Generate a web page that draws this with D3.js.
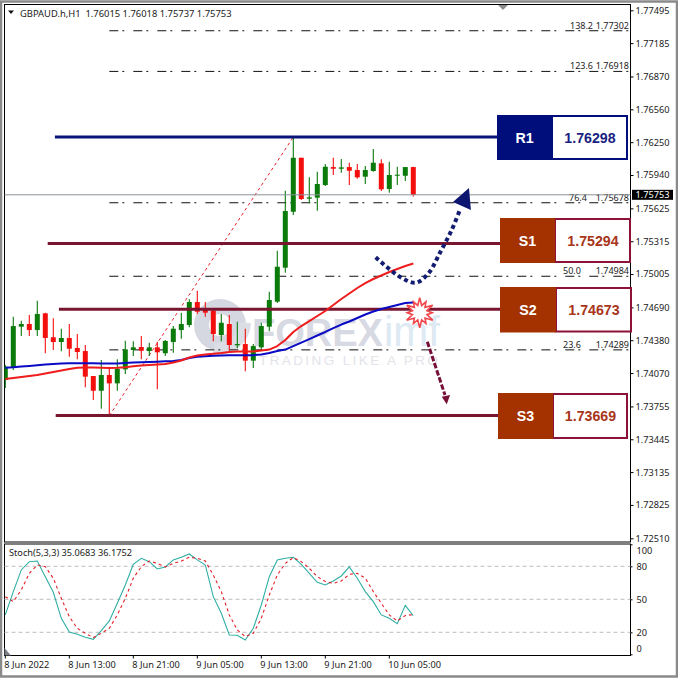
<!DOCTYPE html>
<html>
<head>
<meta charset="utf-8">
<title>GBPAUD H1</title>
<script src="https://cdn.jsdelivr.net/npm/d3@7"></script>
<style>
  html, body { margin: 0; padding: 0; background: #fff; }
  svg { display: block; }
  text { font-family: "Noto Sans", sans-serif; fill: #222; }
  .box text { font-family: "Liberation Sans", Arial, sans-serif; font-weight: bold; }
  .mark text { font-family: "Liberation Sans", Arial, sans-serif; }
</style>
</head>
<body>
<div id="chart"></div>
<script>
// Candles, oldest first, one per hour
const candleOpen = [1.74004,1.74124,1.74508,1.74533,1.74476,1.74634,1.74408,1.74363,1.74401,1.74307,1.74278,1.74042,1.73903,1.74052,1.73973,1.74105,1.74288,1.74316,1.74278,1.74313,1.74257,1.74363,1.74476,1.74524,1.74741,1.74681,1.74659,1.74429,1.74533,1.74332,1.74344,1.74187,1.74313,1.74508,1.74744,1.75065,1.75593,1.76103,1.75716,1.75726,1.75845,1.76015,1.75999,1.76015,1.75987,1.75924,1.75978,1.76050,1.75808,1.75933,1.75933,1.76015];
const candleHigh = [1.74146,1.74602,1.74564,1.74618,1.74753,1.74640,1.74587,1.74489,1.74533,1.74439,1.74335,1.74042,1.74193,1.74130,1.74200,1.74375,1.74370,1.74420,1.74357,1.74366,1.74382,1.74514,1.74640,1.74766,1.74848,1.74741,1.74665,1.74628,1.74618,1.74555,1.74489,1.74344,1.74545,1.74838,1.75225,1.75792,1.76298,1.76103,1.75918,1.75971,1.76044,1.76103,1.76091,1.76056,1.76044,1.76025,1.76185,1.76088,1.76065,1.76018,1.76015,1.76018];
const candleLow = [1.73929,1.74099,1.74420,1.74420,1.74420,1.74257,1.74288,1.74275,1.74224,1.74200,1.73936,1.73816,1.73734,1.73667,1.73903,1.74061,1.74231,1.74200,1.74231,1.73917,1.74231,1.74262,1.74394,1.74502,1.74628,1.74602,1.74370,1.74370,1.74281,1.74304,1.74087,1.74118,1.74281,1.74464,1.74731,1.75017,1.75562,1.75704,1.75673,1.75603,1.75836,1.75940,1.75962,1.75845,1.75905,1.75855,1.75971,1.75789,1.75773,1.75845,1.75883,1.75737];
const candleClose = [1.74130,1.74514,1.74533,1.74476,1.74628,1.74401,1.74363,1.74401,1.74300,1.74269,1.74036,1.73903,1.74052,1.73973,1.74111,1.74294,1.74313,1.74281,1.74313,1.74266,1.74373,1.74489,1.74533,1.74741,1.74649,1.74640,1.74439,1.74545,1.74335,1.74344,1.74187,1.74325,1.74514,1.74760,1.75074,1.75600,1.76103,1.75713,1.75729,1.75855,1.76018,1.75999,1.76012,1.75980,1.75918,1.75987,1.76056,1.75805,1.75940,1.75943,1.76015,1.75753];

// Moving averages
const maRed = [1.74014,1.74023,1.74033,1.74042,1.74052,1.74066,1.74080,1.74094,1.74108,1.74120,1.74122,1.74122,1.74120,1.74119,1.74120,1.74125,1.74135,1.74141,1.74146,1.74151,1.74156,1.74170,1.74189,1.74217,1.74236,1.74245,1.74252,1.74259,1.74269,1.74274,1.74274,1.74274,1.74283,1.74292,1.74325,1.74382,1.74458,1.74514,1.74561,1.74609,1.74656,1.74712,1.74769,1.74821,1.74873,1.74920,1.74958,1.74991,1.75024,1.75052,1.75081,1.75104];
const maBlue = [1.74121,1.74125,1.74131,1.74137,1.74143,1.74150,1.74156,1.74160,1.74163,1.74163,1.74163,1.74162,1.74161,1.74160,1.74161,1.74165,1.74169,1.74172,1.74174,1.74177,1.74181,1.74184,1.74193,1.74212,1.74224,1.74229,1.74233,1.74237,1.74239,1.74239,1.74239,1.74239,1.74245,1.74259,1.74278,1.74292,1.74325,1.74358,1.74391,1.74425,1.74458,1.74495,1.74528,1.74557,1.74590,1.74623,1.74651,1.74675,1.74694,1.74712,1.74731,1.74736];

// Stochastic oscillator
const stochMain = [35.8,57.0,76.7,84.2,84.8,70.6,56.4,32.7,20.3,18.2,15.5,13.6,21.5,30.3,46.4,63.0,81.8,87.3,84.2,77.6,79.4,85.8,88.2,91.2,85.8,81.2,52.4,37.3,17.6,17.3,13.0,23.6,44.8,70.6,85.8,87.3,88.2,81.8,73.6,65.5,63.0,66.7,71.2,79.4,69.1,57.0,47.9,35.8,32.7,27.9,44.5,35.07];
const stochSignal = [52.4,47.9,58.5,73.6,81.2,79.7,69.1,50.9,34.2,23.6,19.1,15.2,19.1,23.6,35.8,50.9,69.1,79.7,84.8,82.7,79.4,82.7,84.8,88.2,87.3,84.8,72.1,57.0,35.8,22.1,16.1,19.1,32.7,53.9,72.1,82.7,87.9,84.2,78.2,70.6,66.1,64.5,66.7,72.7,73.6,69.1,57.0,46.4,35.8,30.3,35.2,36.18];

// Axis labels
const priceTicks = [1.77495,1.77185,1.76870,1.76560,1.76250,1.75940,1.75625,1.75315,1.75005,1.74690,1.74380,1.74070,1.73755,1.73445,1.73135,1.72825,1.72510];
const stochTicks = [100,80,50,20,0];
const stochLevels = [80,50,20];
const timeIndex = [0,8,16,24,32,40,48];
const timeLabels = ['8 Jun 2022','8 Jun 13:00','8 Jun 21:00','9 Jun 05:00','9 Jun 13:00','9 Jun 21:00','10 Jun 05:00'];

// Fibonacci levels
const fibNames = ['138.2','123.6','76.4','50.0','23.6'];
const fibPrices = [1.77302,1.76918,1.75678,1.74984,1.74289];

// Support and resistance
const levelNames = ['R1','S1','S2','S3'];
const levelPrices = [1.76298,1.75294,1.74673,1.73669];
const levelStart = [6.2,5.3,6.7,6.3];

// Hand drawn arrows, as [candle index, price]
const arrowUpPath = [[46.3,1.75163],[49.3,1.74980],[51.3,1.74923],[52.9,1.75012],[54.4,1.75216],[55.8,1.75421],[56.9,1.75625]];
const arrowUpHead = [[57.96,1.75817],[55.96,1.75685],[58.2,1.75609]];
const arrowDownPath = [[52.75,1.74366],[54.96,1.73863]];
const arrowDownHead = [[55.18,1.73775],[54.55,1.73847],[55.6,1.73863]];
const starCentre = [51.8,1.74640];

const currentPrice = 1.75753;
const titleText = 'GBPAUD.h,H1  1.76015 1.76018 1.75737 1.75753';
const stochTitle = 'Stoch(5,3,3) 35.0683 36.1752';

// Layout
const WIDTH = 678, HEIGHT = 678;
const PANEL = { left: 4.5, right: 630.5, top: 4.5, bottom: 542, subTop: 544, subBottom: 655.5 };
const COLORS = {
  up: '#0a7a0a', down: '#f40f0f', navy: '#0a1478', maroon: '#7a1530',
  fib: '#111', brick: '#a33200', wine: '#8c1238', teal: '#2faea4'
};

const x = d3.scaleLinear().domain([0, 1]).range([5.3, 13.3]);
const y = d3.scaleLinear().domain([1.77495, 1.72510]).range([10.3, 538.3]);
const yStoch = d3.scaleLinear().domain([0, 100]).range([654.3, 544.3]);
const toPoint = d => [x(d[0]), y(d[1])];

const svg = d3.select('#chart').append('svg')
  .attr('width', WIDTH)
  .attr('height', HEIGHT)
  .attr('viewBox', `0 0 ${WIDTH} ${HEIGHT}`);

drawFrame();
drawWatermark();
drawFib();
drawCandles();
drawLevels();
drawAverages();
drawArrows();
drawPriceAxis();
drawStoch();
drawBoxes();

function drawFrame() {
  // grey window edge
  svg.append('path')
    .attr('d', `M1,${HEIGHT - 1.5}V1.5H${WIDTH - 1}V${HEIGHT - 1.5}Z`)
    .attr('fill', 'none')
    .attr('stroke', '#8a8a8a')
    .attr('stroke-width', 2.5);

  const panels = svg.append('g').attr('fill', '#fff').attr('stroke', '#000');
  panels.append('rect')
    .attr('x', PANEL.left).attr('y', PANEL.top)
    .attr('width', PANEL.right - PANEL.left).attr('height', PANEL.bottom - PANEL.top);
  panels.append('rect')
    .attr('x', PANEL.left).attr('y', PANEL.subTop)
    .attr('width', PANEL.right - PANEL.left).attr('height', PANEL.subBottom - PANEL.subTop);

  // little grey shift marker under the top edge
  svg.append('path')
    .attr('d', 'M498,5L508,5L503,10Z')
    .attr('fill', '#8c8c8c');

  svg.append('path')
    .attr('d', 'M8,10.5L14,10.5L11,14Z')
    .attr('fill', '#111');
  svg.append('text')
    .attr('x', 20).attr('y', 17)
    .attr('font-size', 9.4)
    .attr('xml:space', 'preserve')
    .style('white-space', 'pre')
    .text(titleText);
}

function drawWatermark() {
  const mark = svg.append('g').attr('class', 'mark').attr('pointer-events', 'none');

  const ring = d3.arc().innerRadius(11).outerRadius(26).startAngle(0).endAngle(2 * Math.PI);
  mark.append('path')
    .attr('d', ring())
    .attr('transform', 'translate(220,325)')
    .attr('fill', '#d5d7e1');
  const tail = d3.arc().innerRadius(21).outerRadius(33).startAngle(1.6).endAngle(3.3);
  mark.append('path')
    .attr('d', tail())
    .attr('transform', 'translate(218,322)')
    .attr('fill', '#dcdee6');

  mark.append('text')
    .attr('x', 252).attr('y', 346)
    .attr('font-size', 38).attr('font-weight', 'bold')
    .style('fill', '#d7d9e3')
    .text('FOREX');
  mark.append('text')
    .attr('x', 384).attr('y', 346)
    .attr('font-size', 42)
    .style('fill', '#dde9f3')
    .text('imf');
  mark.append('text')
    .attr('x', 259).attr('y', 365)
    .attr('font-size', 13.5)
    .attr('letter-spacing', 2.4)
    .style('fill', '#e3e4ea')
    .text('TRADING LIKE A PRO');
}

function drawFib() {
  const g = svg.append('g');
  const lineX0 = x(13);

  g.selectAll('line.fib')
    .data(fibPrices)
    .enter()
    .append('line')
    .attr('class', 'fib')
    .attr('x1', lineX0).attr('x2', PANEL.right)
    .attr('y1', y).attr('y2', y)
    .attr('stroke', COLORS.fib)
    .attr('stroke-dasharray', '9 4 2 9');

  // the fibo trend line runs low candle to high candle
  g.append('line')
    .attr('x1', x(13)).attr('y1', y(d3.min(candleLow)))
    .attr('x2', x(36)).attr('y2', y(d3.max(candleHigh)))
    .attr('stroke', '#e8202c')
    .attr('stroke-dasharray', '3 3');

  const nameStart = [570, 570, 569, 563, 563];
  g.selectAll('text.fib-name')
    .data(fibNames)
    .enter()
    .append('text')
    .attr('class', 'fib-name')
    .attr('x', (d, i) => nameStart[i])
    .attr('y', (d, i) => y(fibPrices[i]) - 2)
    .attr('font-size', 9)
    .text(d => d);
  g.selectAll('text.fib-price')
    .data(fibPrices)
    .enter()
    .append('text')
    .attr('class', 'fib-price')
    .attr('x', 629)
    .attr('y', d => y(d) - 2)
    .attr('text-anchor', 'end')
    .attr('font-size', 9)
    .text(d => d.toFixed(5));
}

function drawCandles() {
  const candles = candleOpen.map((open, i) => ({
    i, open, high: candleHigh[i], low: candleLow[i], close: candleClose[i]
  }));
  const colour = d => d.close >= d.open ? COLORS.up : COLORS.down;

  const g = svg.append('g');

  g.selectAll('line')
    .data(candles)
    .enter()
    .append('line')
    .attr('x1', d => x(d.i)).attr('x2', d => x(d.i))
    .attr('y1', d => y(d.high)).attr('y2', d => y(d.low))
    .attr('stroke', colour)
    .attr('stroke-width', 1.1);

  g.selectAll('rect')
    .data(candles)
    .enter()
    .append('rect')
    .attr('x', d => Math.max(x(d.i) - 2.5, PANEL.left))
    .attr('width', d => x(d.i) + 2.5 - Math.max(x(d.i) - 2.5, PANEL.left))
    .attr('y', d => y(Math.max(d.open, d.close)))
    .attr('height', d => Math.max(1, Math.abs(y(d.open) - y(d.close))))
    .attr('fill', colour);

  // last price line
  svg.append('line')
    .attr('x1', PANEL.left).attr('x2', PANEL.right)
    .attr('y1', y(currentPrice)).attr('y2', y(currentPrice))
    .attr('stroke', '#8a9298');
}

function drawLevels() {
  const boxLeft = [497, 500, 500, 498];
  svg.append('g')
    .selectAll('line')
    .data(levelPrices)
    .enter()
    .append('line')
    .attr('x1', (d, i) => x(levelStart[i]))
    .attr('x2', (d, i) => boxLeft[i])
    .attr('y1', y).attr('y2', y)
    .attr('stroke', (d, i) => i === 0 ? COLORS.navy : COLORS.maroon)
    .attr('stroke-width', 3);
}

function drawAverages() {
  const line = d3.line().x((d, i) => x(i)).y(d => y(d));
  [[maBlue, '#0a0ac4'], [maRed, '#ee1c1c']].forEach(([values, stroke]) => {
    svg.append('path')
      .attr('d', line(values))
      .attr('fill', 'none')
      .attr('stroke', stroke)
      .attr('stroke-width', 2)
      .attr('stroke-linejoin', 'round');
  });
}

function drawArrows() {
  const curve = d3.line().curve(d3.curveCatmullRom);

  svg.append('path')
    .attr('d', curve(arrowUpPath.map(toPoint)))
    .attr('fill', 'none')
    .attr('stroke', '#121c70')
    .attr('stroke-width', 4)
    .attr('stroke-dasharray', '4 3.2');
  svg.append('path')
    .attr('d', d3.line()(arrowUpHead.map(toPoint)) + 'Z')
    .attr('fill', '#0c1670');

  svg.append('path')
    .attr('d', d3.line()(arrowDownPath.map(toPoint)))
    .attr('fill', 'none')
    .attr('stroke', '#761038')
    .attr('stroke-width', 3)
    .attr('stroke-dasharray', '5.5 2');
  svg.append('path')
    .attr('d', d3.line()(arrowDownHead.map(toPoint)) + 'Z')
    .attr('fill', '#761038');

  // burst where the price meets S2
  const spikes = d3.range(24).map(k => [
    k / 24 * 2 * Math.PI,
    k % 2 === 0 ? (k % 4 === 0 ? 15 : 12.5) : 7.5
  ]);
  const [cx, cy] = toPoint(starCentre);
  svg.append('path')
    .attr('d', d3.lineRadial().curve(d3.curveLinearClosed)(spikes))
    .attr('transform', `translate(${cx},${cy})`)
    .attr('fill', '#fff')
    .attr('stroke', '#f0484c')
    .attr('stroke-width', 1.6);
}

function drawPriceAxis() {
  const axis = d3.axisRight(y)
    .tickValues(priceTicks)
    .tickFormat(d3.format('.5f'))
    .tickSize(3)
    .tickPadding(2);
  const g = svg.append('g')
    .attr('transform', `translate(${PANEL.right},0)`)
    .call(axis);
  g.select('.domain').remove();
  g.selectAll('text').attr('font-size', 9.2).style('font-family', '"Noto Sans", sans-serif').style('fill', '#222');
  g.selectAll('line').attr('stroke', '#000');

  // last price tag
  const tag = svg.append('g');
  tag.append('rect')
    .attr('x', 632).attr('y', y(currentPrice) - 5)
    .attr('width', 41).attr('height', 10)
    .attr('fill', '#000');
  tag.append('text')
    .attr('x', 635.5).attr('y', y(currentPrice) + 3.3)
    .attr('font-size', 9.2)
    .style('fill', '#fff')
    .text(currentPrice.toFixed(5));
}

function drawStoch() {
  const g = svg.append('g');

  g.selectAll('line.level')
    .data(stochLevels)
    .enter()
    .append('line')
    .attr('class', 'level')
    .attr('x1', PANEL.left).attr('x2', PANEL.right)
    .attr('y1', yStoch).attr('y2', yStoch)
    .attr('stroke', '#bdbdbd')
    .attr('stroke-dasharray', '4 3');

  const line = d3.line().x((d, i) => x(i)).y(d => yStoch(d));
  g.append('path')
    .attr('d', line(stochMain))
    .attr('fill', 'none')
    .attr('stroke', COLORS.teal)
    .attr('stroke-width', 1.1);
  g.append('path')
    .attr('d', line(stochSignal))
    .attr('fill', 'none')
    .attr('stroke', '#e3202a')
    .attr('stroke-width', 1.1)
    .attr('stroke-dasharray', '3 3');

  g.append('text')
    .attr('x', 9).attr('y', 556)
    .attr('font-size', 9.2)
    .text(stochTitle);

  // corner marker
  g.append('path')
    .attr('d', `M${PANEL.left},${PANEL.subBottom}V648L11,${PANEL.subBottom}Z`)
    .attr('fill', '#7c7f88');

  // right scale: 100 and 0 sit inside the panel edge
  const axis = d3.axisRight(yStoch).tickValues(stochTicks).tickSize(2).tickPadding(4);
  const right = g.append('g')
    .attr('transform', `translate(${PANEL.right},0)`)
    .call(axis);
  right.select('.domain').remove();
  right.selectAll('line').attr('stroke', '#000');
  right.selectAll('text')
    .attr('font-size', 9.2)
    .attr('dy', d => d === 100 ? '0.95em' : d === 0 ? '-0.32em' : '0.32em')
    .style('font-family', '"Noto Sans", sans-serif')
    .style('fill', '#222');

  // time scale
  const bottom = g.append('g');
  bottom.selectAll('line')
    .data(timeIndex)
    .enter()
    .append('line')
    .attr('x1', d => x(d)).attr('x2', d => x(d))
    .attr('y1', PANEL.subBottom).attr('y2', PANEL.subBottom + 3)
    .attr('stroke', '#000');
  bottom.selectAll('text')
    .data(timeLabels)
    .enter()
    .append('text')
    .attr('x', (d, i) => x(timeIndex[i]) - 1)
    .attr('y', 667.5)
    .attr('font-size', 9.2)
    .text(d => d);
}

function drawBoxes() {
  const boxes = [
    { x: 497, y: 115, split: 552, right: 628, bottom: 160 },
    { x: 500, y: 218, split: 555, right: 631, bottom: 263 },
    { x: 500, y: 287, split: 556, right: 632, bottom: 332.5 },
    { x: 498, y: 393, split: 553, right: 628, bottom: 439 }
  ];

  boxes.forEach((b, i) => {
    const solid = i === 0 ? '#000e7c' : COLORS.brick;
    const rim = i === 0 ? '#000e7c' : COLORS.wine;
    const ink = i === 0 ? '#1a1f80' : '#a8351a';
    const g = svg.append('g').attr('class', 'box');
    const midY = (b.y + b.bottom) / 2;

    g.append('rect')
      .attr('x', b.split).attr('y', b.y + 1)
      .attr('width', b.right - b.split - 1).attr('height', b.bottom - b.y - 2)
      .attr('fill', '#fff')
      .attr('stroke', rim)
      .attr('stroke-width', 2);
    g.append('rect')
      .attr('x', b.x).attr('y', b.y)
      .attr('width', b.split - b.x).attr('height', b.bottom - b.y)
      .attr('fill', solid);
    g.append('text')
      .attr('x', (b.x + b.split) / 2).attr('y', midY + 5)
      .attr('text-anchor', 'middle')
      .attr('font-size', 14.2)
      .style('fill', '#fff')
      .text(levelNames[i]);
    g.append('text')
      .attr('x', (b.split + b.right) / 2).attr('y', midY + 5)
      .attr('text-anchor', 'middle')
      .attr('font-size', 14.2)
      .style('fill', ink)
      .text(levelPrices[i].toFixed(5));
  });
}
</script>
</body>
</html>
